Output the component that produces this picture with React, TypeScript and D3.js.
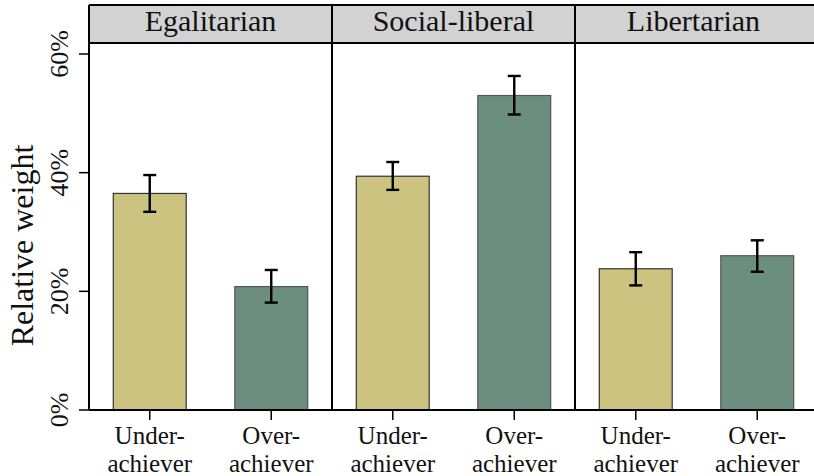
import React from "react";
import * as d3 from "d3";

const panels = ["Egalitarian", "Social-liberal", "Libertarian"];
const groups = ["Under", "Over"];
const groupLabels = [["Under-", "achiever"], ["Over-", "achiever"]];
const values = [
  [0.365, 0.208],
  [0.394, 0.53],
  [0.238, 0.26],
];
const lower = [
  [0.334, 0.181],
  [0.371, 0.498],
  [0.21, 0.233],
];
const upper = [
  [0.396, 0.236],
  [0.418, 0.563],
  [0.266, 0.286],
];
const yTicks = [0, 0.2, 0.4, 0.6];
const colors = ["#cbc37f", "#6c8e80"];
const strokes = ["#333333", "#555555"];

const W = 814;
const H = 476;
const left = 89;
const right = 818;
const stripTop = 5;
const stripBottom = 43;
const bottom = 410;

export default function App() {
  const y = d3.scaleLinear().domain([0, 0.6]).range([bottom, 54]);
  const outer = d3.scaleBand<string>().domain(panels).range([left, right]);
  const inner = d3
    .scaleBand<string>()
    .domain(groups)
    .range([0, outer.bandwidth()])
    .paddingInner(0.4)
    .paddingOuter(0.2);
  const font = '"Liberation Serif"';
  const capW = 13;

  return (
    <svg
      width={W}
      height={H}
      style={{ position: "absolute", left: 0, top: 0, display: "block", background: "#fff" }}
    >
      {/* strips */}
      {panels.map((p) => (
        <g key={p}>
          <rect
            x={outer(p)!}
            y={stripTop}
            width={outer.bandwidth()}
            height={stripBottom - stripTop}
            fill="#d2d2d2"
          />
          <text
            x={outer(p)! + outer.bandwidth() / 2 + (p === "Libertarian" ? -3 : 0)}
            y={31}
            textAnchor="middle"
            fontSize={30}
            fill="#111"
            style={{ fontFamily: font }}
          >
            {p}
          </text>
        </g>
      ))}
      {/* bars */}
      {panels.map((p, pi) =>
        groups.map((g, gi) => {
          const x0 = outer(p)! + inner(g)!;
          const bw = inner.bandwidth();
          const cx = x0 + bw / 2;
          return (
            <g key={p + g}>
              <rect
                x={x0}
                y={y(values[pi][gi])}
                width={bw}
                height={bottom - y(values[pi][gi])}
                fill={colors[gi]}
                stroke={strokes[gi]}
                strokeWidth={1.2}
              />
              <line x1={cx} x2={cx} y1={y(upper[pi][gi])} y2={y(lower[pi][gi])} stroke="#000" strokeWidth={2.4} />
              <line x1={cx - capW / 2} x2={cx + capW / 2} y1={y(upper[pi][gi])} y2={y(upper[pi][gi])} stroke="#000" strokeWidth={2.4} />
              <line x1={cx - capW / 2} x2={cx + capW / 2} y1={y(lower[pi][gi])} y2={y(lower[pi][gi])} stroke="#000" strokeWidth={2.4} />
              <line x1={cx} x2={cx} y1={bottom} y2={bottom + 10} stroke="#000" strokeWidth={1.5} />
              <text textAnchor="middle" fontSize={25} fill="#111" style={{ fontFamily: font }}>
                <tspan x={cx} y={444}>{groupLabels[gi][0]}</tspan>
                <tspan x={cx} y={472}>{groupLabels[gi][1]}</tspan>
              </text>
            </g>
          );
        })
      )}
      {/* frame lines */}
      <line x1={left} x2={W} y1={stripTop} y2={stripTop} stroke="#000" strokeWidth={2} />
      <line x1={left} x2={W} y1={stripBottom} y2={stripBottom} stroke="#000" strokeWidth={2} />
      <line x1={left} x2={W} y1={bottom} y2={bottom} stroke="#000" strokeWidth={2.2} />
      {panels.map((p) => (
        <line key={"v" + p} x1={outer(p)!} x2={outer(p)!} y1={stripTop} y2={bottom} stroke="#000" strokeWidth={2} />
      ))}
      {/* y axis */}
      {yTicks.map((t) => (
        <g key={t}>
          <line x1={left - 10} x2={left} y1={y(t)} y2={y(t)} stroke="#000" strokeWidth={1.5} />
          <text
            transform={`translate(68,${y(t)}) rotate(-90)`}
            textAnchor="middle"
            fontSize={26}
            fill="#111"
            style={{ fontFamily: font }}
          >
            {d3.format(".0%")(t)}
          </text>
        </g>
      ))}
      <text
        transform={`translate(33,${(stripBottom + bottom) / 2 + 19}) rotate(-90)`}
        textAnchor="middle"
        fontSize={32}
        fill="#111"
        style={{ fontFamily: font }}
      >
        Relative weight
      </text>
    </svg>
  );
}
